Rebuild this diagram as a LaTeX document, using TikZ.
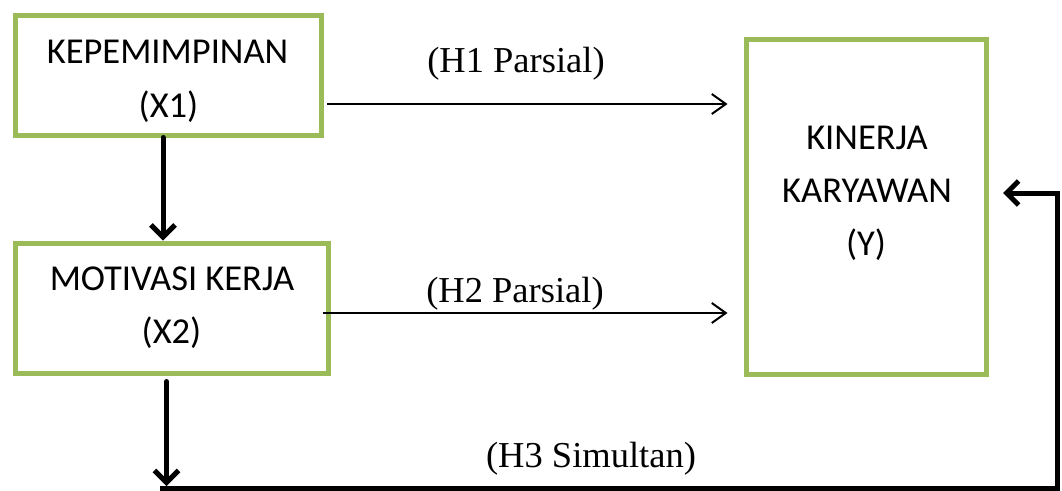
\documentclass[tikz,border=0pt]{standalone}
\usepackage{fontspec}
\setmainfont{Liberation Serif}
\newfontfamily\calfont{Carlito}
\usetikzlibrary{arrows.meta}
\definecolor{boxgreen}{HTML}{9BBB59}
\begin{document}
\begin{tikzpicture}[x=1pt,y=-1pt,
  varbox/.style={draw=boxgreen,line width=5pt,rectangle,inner sep=0pt},
  boxtext/.style={anchor=base,inner sep=0pt,font=\calfont\fontsize{36.5}{40}\selectfont},
  hyptext/.style={anchor=base,inner sep=0pt,font=\fontsize{36.5}{40}\selectfont},
  thinarrow/.style={line width=2pt,-{Straight Barb[length=14pt,width=20pt]}},
  thickarrow/.style={line width=5pt,line cap=round,-{Straight Barb[length=12pt,width=24pt]}},
  thickline/.style={line width=5pt}]
\useasboundingbox (0,0) rectangle (1062,490);
% boxes
\node[varbox,minimum width=306pt,minimum height=120pt] (box1) at (168.5,75) {};
\node[varbox,minimum width=313pt,minimum height=130pt] (box2) at (171.5,308) {};
\node[varbox,minimum width=240pt,minimum height=335pt] (box3) at (866,206.5) {};
% box texts
\node[boxtext] (t1a) at (167.5,63) {KEPEMIMPINAN};
\node[boxtext] (t1b) at (168.5,117) {(X1)};
\node[boxtext] (t2a) at (172,290) {MOTIVASI KERJA};
\node[boxtext] (t2b) at (171.5,343) {(X2)};
\node[boxtext] (t3a) at (867,149) {KINERJA};
\node[boxtext] (t3b) at (867,202) {KARYAWAN};
\node[boxtext] (t3c) at (866,255) {(Y)};
% hypothesis labels
\node[hyptext] (h1) at (516,72) {(H1 Parsial)};
\node[hyptext] (h2) at (515,302) {(H2 Parsial)};
\node[hyptext] (h3) at (591,467) {(H3 Simultan)};
% thin arrows
\draw[thinarrow,shorten <=3pt,shorten >=16pt] ([yshift=-29pt]box1.east) -- ([yshift=-29pt]box3.west |- box1.east);
\draw[thinarrow,shorten >=16pt] ([xshift=-8pt,yshift=-5pt]box2.east) -- ([yshift=-5pt]box3.west |- box2.east);
% thick vertical arrows
\draw[thickarrow] ([xshift=-5.5pt]box1.south) -- ([xshift=-8.5pt]box2.north);
\coordinate (m2) at (166.5,486);
\coordinate (c1) at (160,488);
\coordinate (c2) at (1057,488);
\draw[thickarrow,shorten <=6pt] ([xshift=-5pt]box2.south) -- (m2);
% feedback path
\draw[thickline] (c1) -- (c2);
\draw[thickarrow,line cap=butt,shorten >=14.5pt] ([yshift=-2.5pt]c2) |- ([yshift=13.5pt]box3.east);
\end{tikzpicture}
\end{document}
